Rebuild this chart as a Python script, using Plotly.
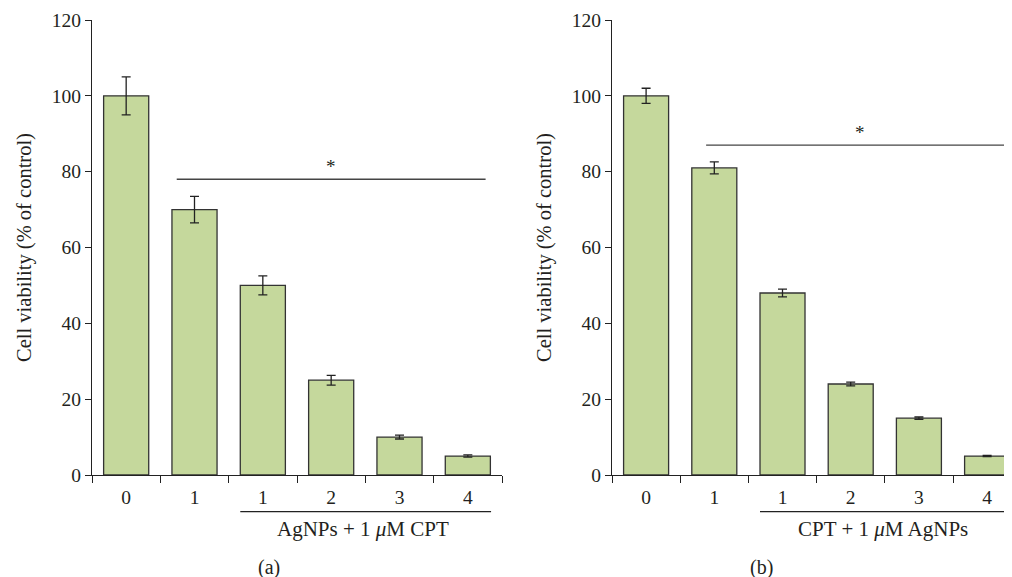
import plotly.graph_objects as go

# ---- data ----
categories = ["0", "1", "1", "2", "3", "4"]
values_a = [100, 70, 50, 25, 10, 5]
errors_a = [5, 3.5, 2.5, 1.3, 0.5, 0.3]
values_b = [100, 81, 48, 24, 15, 5]
errors_b = [2, 1.6, 1.0, 0.5, 0.3, 0.15]
group_label_a = "AgNPs + 1 <i>μ</i>M CPT"
group_label_b = "CPT + 1 <i>μ</i>M AgNPs"
panel_labels = ["(a)", "(b)"]
y_title = "Cell viability (% of control)"
sig_level_a = 78
sig_level_b = 87

FONT = "Liberation Serif"
TXT = "#231f20"
BAR = "#c5d89c"
EDGE = "#333333"

# page body has an 8px margin; figure is sized to fill the rest of the window
OFF = 8
W, H = 1012 - OFF, 577 - OFF
xpos = list(range(len(categories)))


def px(p):
    return (p - OFF) / W


def py(p):
    return (577 - p) / H


fig = go.Figure()
for vals, errs, xa, ya in [(values_a, errors_a, "x", "y"), (values_b, errors_b, "x2", "y2")]:
    fig.add_trace(go.Bar(
        x=xpos, y=vals, width=0.66, xaxis=xa, yaxis=ya,
        marker=dict(color=BAR, line=dict(color=EDGE, width=1.3)),
        error_y=dict(type="data", array=errs, visible=True, color="#222", thickness=1.3, width=4.5),
        showlegend=False, hoverinfo="skip"))


def xaxis(domain, rng):
    return dict(domain=domain, range=rng, tickmode="array", tickvals=xpos, ticktext=categories,
                ticks="", showline=True, linecolor="#222", linewidth=1.3, showgrid=False, zeroline=False,
                automargin=False,
                tickfont=dict(family=FONT, size=19.5, color=TXT), ticklabelstandoff=4,
                minor=dict(tickmode="linear", tick0=-0.5, dtick=1, ticks="outside", ticklen=7,
                           tickwidth=1.3, tickcolor="#222", showgrid=False))


def yaxis(anchor):
    return dict(domain=[py(475), py(20)], range=[0, 120], dtick=20, ticks="outside", ticklen=6,
                tickwidth=1.3, tickcolor="#222", showline=True, linecolor="#222", linewidth=1.3,
                showgrid=False, zeroline=False, anchor=anchor, automargin=False,
                tickfont=dict(family=FONT, size=19.5, color=TXT),
                title=dict(text=y_title, font=dict(family=FONT, size=20.5, color=TXT), standoff=14))


fig.update_layout(
    width=W, height=H, margin=dict(l=0, r=0, t=0, b=0, autoexpand=False),
    paper_bgcolor="white", plot_bgcolor="white",
    xaxis=dict(xaxis([px(92), px(502)], [-0.5, 5.5]), anchor="y"),
    yaxis=yaxis("x"),
    xaxis2=dict(xaxis([px(612), 1.0], [-0.5, 5.365]), anchor="y2"),
    yaxis2=yaxis("x2"),
    bargap=0.34,
)

shapes = []
annotations = []
for xr, yr, sig, glabel, plabel, plabel_x in [
        ("x", "y", sig_level_a, group_label_a, panel_labels[0], px(256)),
        ("x2", "y2", sig_level_b, group_label_b, panel_labels[1], px(775))]:
    x0s = 0.74 if xr == "x" else 0.88
    x1s = 5.26 if xr == "x" else 5.5
    shapes.append(dict(type="line", xref=xr, yref=yr, x0=x0s, x1=x1s, y0=sig, y1=sig,
                       line=dict(color="#444", width=1.3)))
    annotations.append(dict(xref=xr, yref=yr, x=3.0 if xr == "x" else 3.13, y=sig,
                            text="*", showarrow=False, yanchor="bottom",
                            font=dict(family=FONT, size=19, color=TXT)))
    x1g = 5.34 if xr == "x" else 5.5
    shapes.append(dict(type="line", xref=xr, yref="paper", x0=1.67, x1=x1g,
                       y0=py(511.7), y1=py(511.7), line=dict(color="#222", width=1.3)))
    annotations.append(dict(xref=xr, yref="paper", x=3.47, y=py(529), text=glabel,
                            showarrow=False, yanchor="middle",
                            font=dict(family=FONT, size=21, color=TXT)))
    annotations.append(dict(xref="paper", yref="paper", x=plabel_x, y=py(567), text=plabel,
                            showarrow=False, yanchor="middle",
                            font=dict(family=FONT, size=20, color=TXT)))

fig.update_layout(shapes=shapes, annotations=annotations)
fig.write_html("out.html")
